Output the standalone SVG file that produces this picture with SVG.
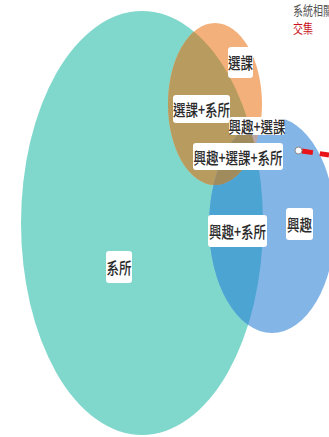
<svg xmlns="http://www.w3.org/2000/svg" width="329" height="437" viewBox="0 0 329 437">
<style>
.lbl rect{fill:#fff;stroke:none}
.lbl text{font-family:"Noto Sans CJK TC","Noto Sans CJK SC",sans-serif;font-size:12.5px;font-weight:500;fill:#2a2a2a;text-anchor:middle;dominant-baseline:central}
.note{font-family:"Noto Sans CJK TC","Noto Sans CJK SC",sans-serif;font-size:10px}
</style>
<defs>
<clipPath id="cpTeal"><ellipse cx="142" cy="223" rx="121" ry="212"/></clipPath>
<clipPath id="cpOrange"><ellipse cx="215" cy="104" rx="47" ry="81"/></clipPath>
<clipPath id="cpBlue"><ellipse cx="272" cy="225" rx="63" ry="108"/></clipPath>
</defs>
<rect width="329" height="437" fill="#fff"/>
<g id="set-xisuo"><ellipse cx="142" cy="223" rx="121" ry="212" fill="#80d8cc"/></g>
<g id="set-xuanke"><ellipse cx="215" cy="104" rx="47" ry="81" fill="#f4b07a"/></g>
<g id="set-xingqu"><ellipse cx="272" cy="225" rx="63" ry="108" fill="#84b5e7"/></g>
<g id="overlaps">
<ellipse cx="215" cy="104" rx="47" ry="81" fill="#b89b5e" clip-path="url(#cpTeal)"/>
<ellipse cx="272" cy="225" rx="63" ry="108" fill="#4ba4d2" clip-path="url(#cpTeal)"/>
<ellipse cx="272" cy="225" rx="63" ry="108" fill="#b9a5a6" clip-path="url(#cpOrange)"/>
<g clip-path="url(#cpTeal)"><ellipse cx="215" cy="104" rx="47" ry="81" fill="#9f8b5c" clip-path="url(#cpBlue)"/></g>
</g>
<g id="connectors">
<line x1="302" y1="151" x2="329" y2="155" stroke="#e8141a" stroke-width="5" stroke-dasharray="11,7"/>
<circle cx="298.5" cy="150.5" r="3.5" fill="#fff" stroke="#888" stroke-width="1"/>
</g>
<g id="label-xisuo" class="lbl"><rect x="106" y="251" width="26" height="32" rx="3"/><text transform="translate(119 267) scale(1 1.3)">系所</text></g>
<g id="label-xuanke" class="lbl"><rect x="228" y="47" width="25" height="31" rx="3"/><text transform="translate(240.5 62) scale(1 1.3)">選課</text></g>
<g id="label-xuanke-xisuo" class="lbl"><rect x="173" y="95" width="57" height="28" rx="3"/><text transform="translate(201.5 109) scale(1 1.3)">選課+系所</text></g>
<g id="label-xingqu-xuanke" class="lbl"><rect x="229" y="117" width="56" height="18" rx="3"/><text transform="translate(257 126) scale(1 1.3)">興趣+選課</text></g>
<g id="label-all" class="lbl"><rect x="193" y="143" width="90" height="27" rx="3"/><text transform="translate(238 156.5) scale(1 1.3)">興趣+選課+系所</text></g>
<g id="label-xingqu-xisuo" class="lbl"><rect x="208" y="215" width="59" height="32" rx="3"/><text transform="translate(237.5 231) scale(1 1.3)">興趣+系所</text></g>
<g id="label-xingqu" class="lbl"><rect x="286" y="208" width="27" height="32" rx="3"/><text transform="translate(299.5 224) scale(1 1.3)">興趣</text></g>
<g id="legend">
<text class="note" transform="translate(293 15) scale(1 1.3)" fill="#555">系統相關</text>
<text class="note" transform="translate(293 33) scale(1 1.3)" fill="#c8101a">交集</text>
</g>
</svg>
